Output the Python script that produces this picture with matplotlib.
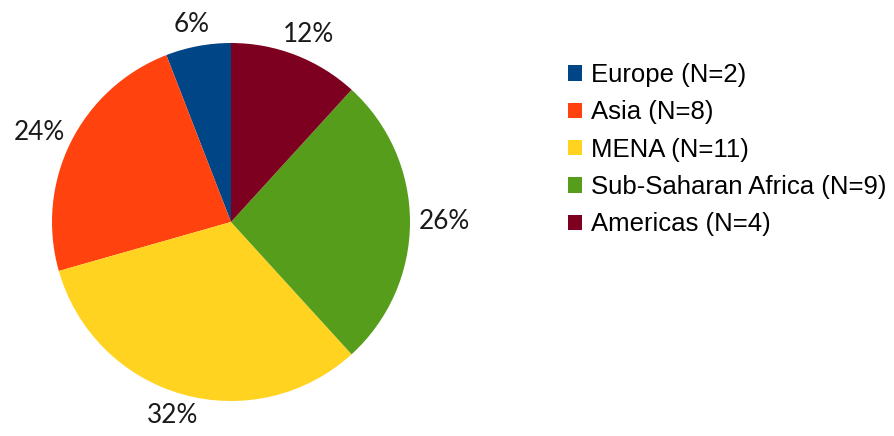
import numpy as np
import matplotlib.pyplot as plt

# 地域別の件数（合計 N=34）
regions = ["Europe", "Asia", "MENA", "Sub-Saharan Africa", "Americas"]
counts = [2, 8, 11, 9, 4]
colors = ["#004586", "#ff420e", "#ffd320", "#579d1c", "#7e0021"]

legend_labels = [f"{r} (N={n})" for r, n in zip(regions, counts)]

W, H = 894, 436
fig = plt.figure(figsize=(W / 100, H / 100), dpi=100)
ax = fig.add_axes([0, 0, 1, 1])

center = (231, H - 222)
radius = 179

wedges, _, autotexts = ax.pie(
    counts,
    colors=colors,
    startangle=90,
    counterclock=True,
    center=center,
    radius=radius,
    autopct=lambda p: f"{p:.0f}%",
    pctdistance=1.1,
    frame=True,
    wedgeprops=dict(linewidth=0),
    textprops=dict(fontsize=18.8, family="Lato", color="#1a1a1a"),
)
ax.set_xlim(0, W)
ax.set_ylim(0, H)
ax.axis("off")

# ラベルは円の外側、文字の大きさ分だけ離して置く
for w, t in zip(wedges, autotexts):
    ang = np.deg2rad((w.theta1 + w.theta2) / 2)
    c, s = np.cos(ang), np.sin(ang)
    x = center[0] + c * (radius * 1.06 + 24)
    y = center[1] + s * (radius * 1.06 + 11)
    t.set_position((x, y))
    t.set_ha("center")
    t.set_va("center")

ax.legend(
    wedges,
    legend_labels,
    loc="upper left",
    bbox_to_anchor=(568 / W, 1 - 63 / H),
    bbox_transform=fig.transFigure,
    frameon=False,
    borderpad=0,
    borderaxespad=0,
    handlelength=0.55,
    handleheight=0.55,
    handletextpad=0.36,
    labelspacing=0.52,
    prop=dict(family="Liberation Sans", size=18.5),
)

fig.savefig("out.png", dpi=100)
